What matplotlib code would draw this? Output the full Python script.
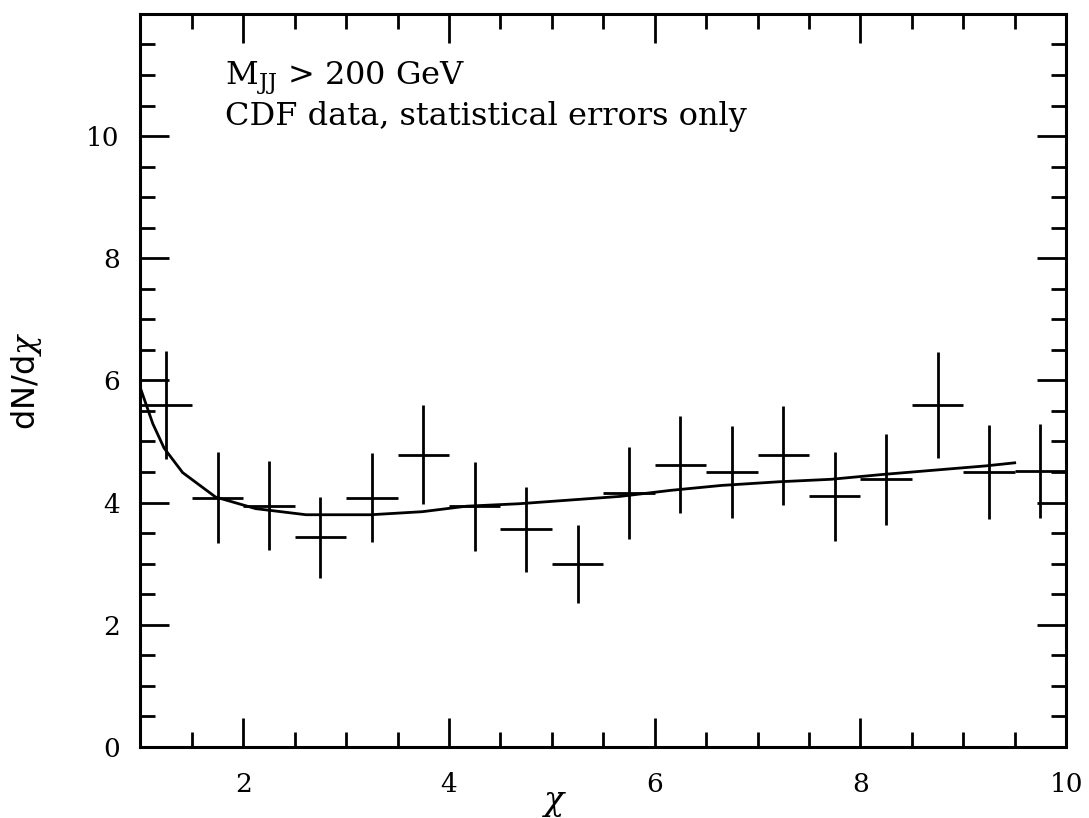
import numpy as np
import matplotlib.pyplot as plt
from matplotlib.ticker import MultipleLocator

# CDF dijet angular distribution, M_JJ > 200 GeV
chi = [1.25, 1.75, 2.25, 2.75, 3.25, 3.75, 4.25, 4.75, 5.25,
       5.75, 6.25, 6.75, 7.25, 7.75, 8.25, 8.75, 9.25, 9.75]
dndchi = [5.60, 4.08, 3.95, 3.43, 4.08, 4.78, 3.94, 3.56, 3.00,
          4.16, 4.62, 4.50, 4.77, 4.10, 4.38, 5.60, 4.50, 4.52]
stat_err = [0.88, 0.74, 0.73, 0.66, 0.73, 0.81, 0.73, 0.69, 0.64,
            0.75, 0.79, 0.76, 0.81, 0.73, 0.75, 0.87, 0.77, 0.77]
bin_half = [0.25] * len(chi)

# theory curve
curve_x = [1.0, 1.12, 1.23, 1.41, 1.73, 2.12, 2.61, 3.24, 3.74, 4.17,
           4.68, 5.66, 6.16, 6.65, 7.21, 7.71, 8.22, 9.22, 9.5]
curve_y = [5.87, 5.29, 4.89, 4.49, 4.09, 3.90, 3.80, 3.80, 3.85, 3.94,
           3.98, 4.10, 4.20, 4.28, 4.34, 4.38, 4.46, 4.60, 4.65]

plt.rcParams['font.family'] = ['DejaVu Serif']
plt.rcParams['mathtext.fontset'] = 'dejavuserif'

fig = plt.figure(figsize=(10.89, 8.18), dpi=100)
ax = fig.add_axes([0.129, 0.087, 0.850, 0.896])

ax.errorbar(chi, dndchi, yerr=stat_err, xerr=bin_half, fmt='none',
            ecolor='black', elinewidth=2.0, capsize=0)
ax.plot(curve_x, curve_y, color='black', lw=2)

ax.set_xlim(1, 10)
ax.set_ylim(0, 12)
ax.set_xticks([2, 4, 6, 8, 10])
ax.set_yticks([0, 2, 4, 6, 8, 10])
ax.xaxis.set_minor_locator(MultipleLocator(0.5))
ax.yaxis.set_minor_locator(MultipleLocator(0.5))
ax.tick_params(which='both', direction='in', top=True, right=True,
               width=2, labelsize=19)
ax.tick_params(which='major', length=21)
ax.tick_params(which='minor', length=11)
ax.tick_params(axis='x', pad=18)
ax.tick_params(axis='y', pad=15)
for s in ax.spines.values():
    s.set_linewidth(2.2)

fig.text(555 / 1089, 1 - 803 / 818, r'$\chi$', fontsize=24,
         ha='center', va='center')
ax.set_ylabel(r'dN/d$\chi$', fontsize=23, family='DejaVu Sans', labelpad=30)

ax.text(0.091, 0.912, r'M$_{\rm JJ}$ > 200 GeV', transform=ax.transAxes,
        fontsize=23, va='center')
ax.text(0.091, 0.860, 'CDF data, statistical errors only', transform=ax.transAxes,
        fontsize=23, va='center')

fig.savefig('out.png', dpi=100)
